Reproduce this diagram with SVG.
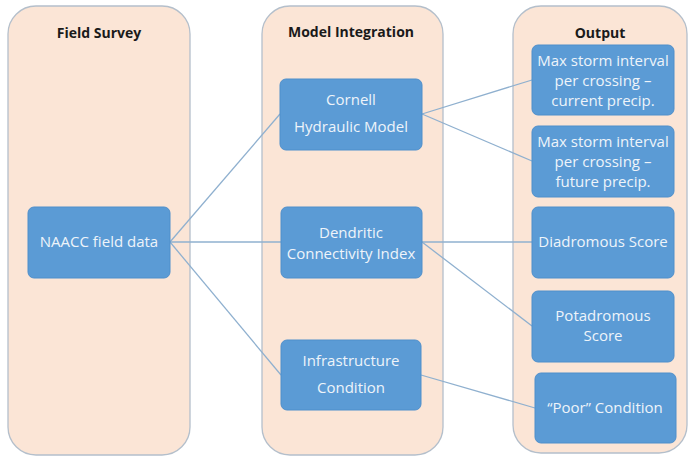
<svg xmlns="http://www.w3.org/2000/svg" width="688" height="456" viewBox="0 0 688 456">
<style>
.col{fill:#fbe5d6;stroke:#b4bfcb;stroke-width:1.3}
.box{fill:#5b9bd5;stroke:#4f8fcb;stroke-width:1}
.hd{font-family:"Open Sans","Liberation Sans",sans-serif;font-weight:bold;font-size:14px;fill:#1a1a1a;text-anchor:middle}
.t{font-family:"Open Sans","Liberation Sans",sans-serif;font-size:15px;fill:#eef4fa;text-anchor:middle}
.c{stroke:#8fb0cf;stroke-width:1.3;fill:none}
</style>
<rect x="0" y="0" width="688" height="456" fill="#ffffff"/>
<g id="col-field"><rect class="col" x="8" y="6" width="182" height="449" rx="28"/><text class="hd" x="99" y="38">Field Survey</text></g>
<g id="col-model"><rect class="col" x="262" y="6" width="181" height="449" rx="28"/><text class="hd" x="351" y="37">Model Integration</text></g>
<g id="col-output"><rect class="col" x="513" y="6" width="174" height="447" rx="28"/><text class="hd" x="600" y="38">Output</text></g>
<g id="connectors">
<line class="c" x1="170" y1="242" x2="280" y2="114"/>
<line class="c" x1="170" y1="242" x2="281" y2="242"/>
<line class="c" x1="170" y1="242" x2="281" y2="375"/>
<line class="c" x1="422" y1="114" x2="532" y2="80"/>
<line class="c" x1="422" y1="114" x2="532" y2="161"/>
<line class="c" x1="422" y1="242" x2="532" y2="242"/>
<line class="c" x1="422" y1="242" x2="532" y2="326"/>
<line class="c" x1="421" y1="375" x2="535" y2="408"/>
</g>
<g id="naacc"><rect class="box" x="28" y="207" width="142" height="71" rx="6"/><text class="t" x="99" y="247">NAACC field data</text></g>
<g id="cornell"><rect class="box" x="280" y="79" width="142" height="71" rx="6"/><text class="t" x="351" y="105">Cornell</text><text class="t" x="351" y="132">Hydraulic Model</text></g>
<g id="dci"><rect class="box" x="281" y="207" width="141" height="71" rx="6"/><text class="t" x="351" y="238">Dendritic</text><text class="t" x="351" y="259">Connectivity  Index</text></g>
<g id="infra"><rect class="box" x="281" y="340" width="140" height="70" rx="6"/><text class="t" x="351" y="366">Infrastructure</text><text class="t" x="351" y="393">Condition</text></g>
<g id="max-current"><rect class="box" x="532" y="45" width="142" height="70" rx="6"/><text class="t" x="603" y="66">Max storm interval</text><text class="t" x="603" y="86">per crossing –</text><text class="t" x="603" y="106">current precip.</text></g>
<g id="max-future"><rect class="box" x="532" y="126" width="142" height="71" rx="6"/><text class="t" x="603" y="147">Max storm interval</text><text class="t" x="603" y="167">per crossing –</text><text class="t" x="603" y="187">future precip.</text></g>
<g id="diadromous"><rect class="box" x="532" y="207" width="142" height="71" rx="6"/><text class="t" x="603" y="247">Diadromous Score</text></g>
<g id="potadromous"><rect class="box" x="532" y="291" width="142" height="71" rx="6"/><text class="t" x="603" y="321">Potadromous</text><text class="t" x="603" y="341">Score</text></g>
<g id="poor"><rect class="box" x="535" y="373" width="141" height="70" rx="6"/><text class="t" x="605" y="413">“Poor” Condition</text></g>
</svg>
